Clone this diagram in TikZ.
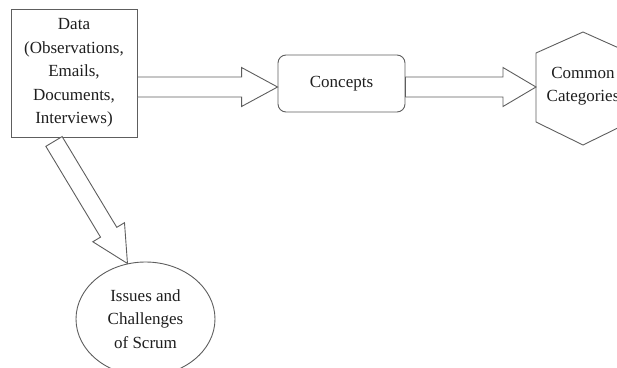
\documentclass[tikz,border=0pt]{standalone}
\usepackage{fontspec}
\setmainfont{Liberation Serif}
\usetikzlibrary{calc,shapes.geometric}
\definecolor{linegray}{HTML}{5E5E5E}
\definecolor{inkdark}{HTML}{1E1E1E}

% Block arrow from #1 to tip #2: shaft half width #3, head half width #4, head length #5
\newcommand\blkarrow[5]{%
  \path ($(#2)!#5!(#1)$) coordinate (ahH);
  \draw[line, line join=miter, fill=white]
    ($(#1)!#3!90:(#2)$) -- ($(ahH)!#3!90:(#2)$) -- ($(ahH)!#4!90:(#2)$) -- (#2)
    -- ($(ahH)!#4!-90:(#2)$) -- ($(ahH)!#3!-90:(#2)$) -- ($(#1)!#3!-90:(#2)$) -- cycle;}

\begin{document}
\begin{tikzpicture}[x=1pt,y=-1pt,
  line/.style={draw=linegray, line width=0.9pt},
  label/.style={text=inkdark, font=\fontsize{17}{23.5}\selectfont, align=center, inner sep=0pt},
  box/.style={line, label, rectangle}]
  \useasboundingbox (0,0) rectangle (617,367);
  \clip (0,0) rectangle (617,367);

  % nodes
  \node[box, minimum width=126pt, minimum height=128pt] (data) at (74,73)
    {Data\\(Observations,\\Emails,\\Documents,\\Interviews)};
  \node[box, rounded corners=8pt, minimum width=127pt, minimum height=57pt] (concepts) at (341.5,83.5) {Concepts};
  \node[line, label, ellipse, minimum width=139pt, minimum height=114pt] (issues) at (145.5,319)
    {Issues and\\Challenges\\of Scrum};

  % hexagon holding the categories
  \coordinate (hexc) at (583,88.5);
  \draw[line] ($(hexc)+(0,-56.5)$) -- ($(hexc)+(47,-35.5)$) -- ($(hexc)+(47,33.5)$)
    -- ($(hexc)+(0,56.5)$) -- ($(hexc)+(-47,33.5)$) -- ($(hexc)+(-47,-35.5)$) -- cycle;
  \node[label] (cats) at (583,86) {Common\\Categories};
  \coordinate (hexW) at ($(hexc)+(-47,-1.5)$);

  % connectors
  \coordinate (a1s) at ($(data.east)+(0,14)$);
  \coordinate (a1t) at (concepts.west |- a1s);
  \blkarrow{a1s}{a1t}{10pt}{19.5pt}{36pt}

  \coordinate (a2s) at (concepts.east |- a1s);
  \blkarrow{a2s}{hexW}{10pt}{19.5pt}{33pt}

  \coordinate (a3s) at ($(data.south)+(-20,4)$);
  \coordinate (a3t) at (issues.108);
  \blkarrow{a3s}{a3t}{9.5pt}{18.5pt}{36.5pt}
\end{tikzpicture}
\end{document}
